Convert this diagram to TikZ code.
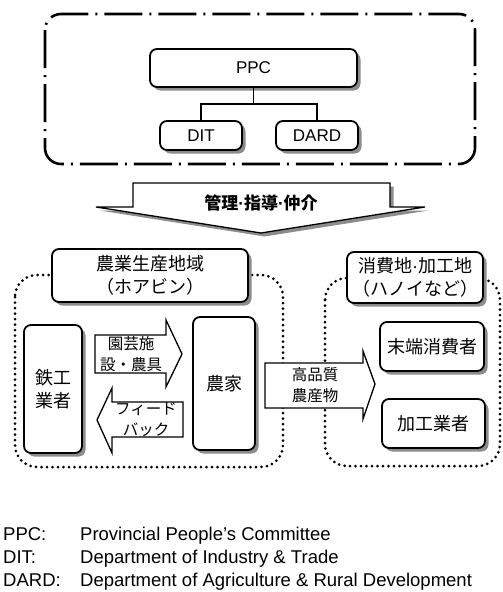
\documentclass[tikz,border=0pt]{standalone}
\usepackage{fontspec}
\setmainfont{Liberation Sans}
\newfontfamily\jp{Noto Sans CJK JP}
\newfontfamily\latdot{Liberation Sans}
\newcommand{\ndot}{{\latdot·}}
\usetikzlibrary{shadows}
\begin{document}
\begin{tikzpicture}[x=1pt,y=-1pt,
  sh/.style={drop shadow={shadow xshift=3.5pt,shadow yshift=-3.5pt,fill=black!45,opacity=1}},
  box/.style={draw=black,line width=1.8pt,rounded corners=7pt,fill=white,sh,inner sep=0pt,align=center},
  jtext/.style={font=\jp\fontsize{18}{23}\selectfont},
  etext/.style={font=\fontsize{17}{20}\selectfont},
  alabel/.style={font=\jp\fontsize{15.5}{21}\selectfont,align=center,inner sep=0pt},
  region/.style={line width=3pt,dash pattern=on 0pt off 5.5pt,line cap=round,rounded corners=22pt},
  dashdot/.style={line width=2.6pt,dash pattern=on 38pt off 7pt on 2pt off 7pt,rounded corners=16pt},
  flowarrow/.style={draw=black,line width=1.3pt,fill=white,line join=miter},
  conn/.style={line width=1.4pt},
  foot/.style={font=\fontsize{18.5}{22}\selectfont,anchor=base west,inner sep=0pt}
]
\useasboundingbox (0,0) rectangle (503,592);

% top group
\draw[dashdot] (45,14) rectangle (475,164);
\node[box,etext,minimum width=207pt,minimum height=38pt] (ppc) at (253.5,68) {PPC};
\node[box,etext,minimum width=82pt,minimum height=29pt] (dit) at (201,135.5) {DIT};
\node[box,etext,minimum width=82pt,minimum height=29pt] (dard) at (317,135.5) {DARD};
\coordinate (j) at (253.5,104);
\draw[conn] (ppc.south) -- (j);
\draw[conn] (dit.north) |- (j) -| (dard.north);

% big arrow
\draw[flowarrow,sh] (133,183) -- (390,183) -- (390,207) -- (425,207) -- (261,233) -- (96,207) -- (133,207) -- cycle;
\node[font=\jp\bfseries\fontsize{17}{20}\selectfont] (guide) at (261,203) {管理\ndot 指導\ndot 仲介};

% regions
\draw[region] (15,275) rectangle (283,467);
\draw[region] (325,278) rectangle (500,466);

\node[box,jtext,minimum width=196pt,minimum height=53pt] (prod) at (150,275.5) {農業生産地域\\（ホアビン）};
\node[box,jtext,minimum width=136pt,minimum height=51pt] (cons) at (415,277.5) {消費地{\latdot·}加工地\\（ハノイなど）};

\node[box,jtext,minimum width=58pt,minimum height=128pt] (smith) at (53,389) {鉄工\\業者};
\node[box,jtext,minimum width=62pt,minimum height=133pt] (farm) at (224,383.5) {農家};
\node[box,jtext,minimum width=104pt,minimum height=49pt] (endc) at (432,346.5) {末端消費者};
\node[box,jtext,minimum width=103pt,minimum height=49pt] (proc) at (433.5,423.5) {加工業者};

% small arrows
\draw[flowarrow] (95,335) -- (166,335) -- (166,320) -- (182,354) -- (166,387) -- (166,373) -- (95,373) -- cycle;
\node[alabel] (tools) at (131,354) {園芸施\\設・農具};
\draw[flowarrow] (183,402) -- (112,402) -- (112,388) -- (97,420) -- (112,453) -- (112,437) -- (183,437) -- cycle;
\node[alabel] (fb) at (146,420) {フィード\\バック};
\draw[flowarrow] (265,363) -- (363,363) -- (363,351) -- (375,384) -- (363,419) -- (363,408) -- (265,408) -- cycle;
\node[alabel] (hq) at (315,385) {高品質\\農産物};

% legend
\node[foot] (k1) at (3,540) {PPC:};
\node[foot] (v1) at (80,540) {Provincial People’s Committee};
\node[foot] (k2) at (3,563.3) {DIT:};
\node[foot] (v2) at (80,563.3) {Department of Industry \& Trade};
\node[foot] (k3) at (3,586.6) {DARD:};
\node[foot] (v3) at (80,586.6) {Department of Agriculture \& Rural Development};
\end{tikzpicture}
\end{document}
